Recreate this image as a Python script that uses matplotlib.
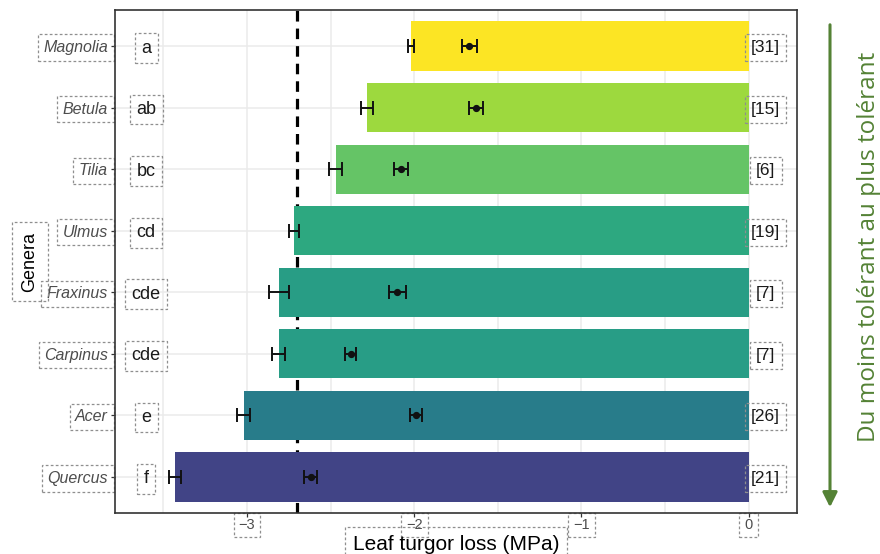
import numpy as np
import matplotlib.pyplot as plt
from matplotlib.ticker import MultipleLocator

# Genera ordered from least to most drought tolerant (top to bottom)
genera = ["Magnolia", "Betula", "Tilia", "Ulmus", "Fraxinus", "Carpinus", "Acer", "Quercus"]
tlp_mean = [-2.02, -2.28, -2.47, -2.72, -2.81, -2.81, -3.02, -3.43]
tlp_se = [0.02, 0.036, 0.037, 0.032, 0.058, 0.038, 0.038, 0.035]
pi0_mean = [-1.67, -1.63, -2.08, np.nan, -2.10, -2.38, -1.99, -2.62]
pi0_se = [0.045, 0.04, 0.04, np.nan, 0.053, 0.034, 0.034, 0.038]
group_letters = ["a", "ab", "bc", "cd", "cde", "cde", "e", "f"]
n_species = [31, 15, 6, 19, 7, 7, 26, 21]
bar_colors = ["#FCE524", "#9DD93E", "#65C466", "#2DA880", "#289D85", "#289D86", "#287C8A", "#414486"]
threshold = -2.7
x_ticks = [-3, -2, -1, 0]

plt.rcParams['font.family'] = ['Liberation Sans', 'DejaVu Sans']

fig = plt.figure(figsize=(8.8, 5.54), dpi=100)
ax = fig.add_axes([115 / 880, 1 - 513 / 554, (797 - 115) / 880, (513 - 10) / 554])

ypos = np.arange(len(genera))[::-1] + 1.0

box = dict(boxstyle='square,pad=0.35', fc='none', ec='#8f8f8f', lw=0.9, ls=(0, (2.2, 1.8)))

# grid
ax.set_xlim(-3.79, 0.29)
ax.set_ylim(0.415, 8.585)
ax.xaxis.set_major_locator(MultipleLocator(1))
ax.xaxis.set_minor_locator(MultipleLocator(0.5))
ax.grid(True, which='major', color='#EBEBEB', lw=1.1, zorder=0)
ax.grid(True, which='minor', axis='x', color='#EBEBEB', lw=1.1, zorder=0)
ax.set_axisbelow(True)

ax.axvline(threshold, color='black', lw=2.3, dashes=(3.3, 2.2), zorder=2)

ax.barh(ypos, tlp_mean, height=0.8, color=bar_colors, zorder=3)
ax.errorbar(tlp_mean, ypos, xerr=tlp_se, fmt='none', ecolor='#111111',
            elinewidth=1.4, capsize=4.8, capthick=1.4, zorder=4)

pm = np.array(pi0_mean)
ps = np.array(pi0_se)
ok = ~np.isnan(pm)
ax.errorbar(pm[ok], ypos[ok], xerr=ps[ok], fmt='o', ms=4.2, color='#111111',
            ecolor='#111111', elinewidth=1.4, capsize=4.8, capthick=1.4, zorder=5)

for y, lab, n in zip(ypos, group_letters, n_species):
    ax.text(-3.603, y, lab, ha='center', va='center_baseline', fontsize=13,
            color='#1a1a1a', bbox=box, zorder=6)
    ax.text(0.103, y, f"[{n}]", ha='center', va='center_baseline', fontsize=12.5,
            color='#1a1a1a', bbox=box, zorder=6)

ax.set_yticks(ypos)
ax.set_yticklabels(genera, fontstyle='italic', fontsize=11.5, color='#4d4d4d')
ax.set_xticks(x_ticks)
ax.set_xticklabels([f"\u2212{abs(v)}" if v < 0 else str(v) for v in x_ticks],
                   fontsize=10.5, color='#4d4d4d')
ax.tick_params(axis='both', which='major', length=3, width=0.9, color='#333333')
ax.tick_params(axis='x', pad=0.5)
ax.tick_params(axis='y', pad=2)
ax.tick_params(axis='x', which='minor', length=0)
for t in ax.get_yticklabels() + ax.get_xticklabels():
    t.set_bbox(box)

for s in ax.spines.values():
    s.set_color('#333333')
    s.set_linewidth(1.2)

ax.set_xlabel("Leaf turgor loss (MPa)", fontsize=15, color='black',
              bbox=dict(box, boxstyle='square,pad=0.35'))
ax.xaxis.set_label_coords(0.5, -0.062)
ax.xaxis.label.set_va('center')
ax.set_ylabel("Genera", fontsize=13, color='black', bbox=dict(box, boxstyle='square,pad=0.5'))
ax.yaxis.set_label_coords((30 - 115) / 682, 0.5)
ax.yaxis.label.set_va('center')

green = '#548235'
ax.annotate('', xy=(830 / 880, 1 - 510 / 554), xytext=(830 / 880, 1 - 22 / 554),
            xycoords='figure fraction', textcoords='figure fraction',
            arrowprops=dict(arrowstyle='-|>', color=green, lw=2.2, mutation_scale=22))
fig.text(869 / 880, 1 - 247 / 554, "Du moins tolérant au plus tolérant", rotation=90,
         ha='center', va='center', color=green, fontsize=17.5,
         family=['Open Sans', 'DejaVu Sans'])

fig.savefig('out.png', dpi=100)
